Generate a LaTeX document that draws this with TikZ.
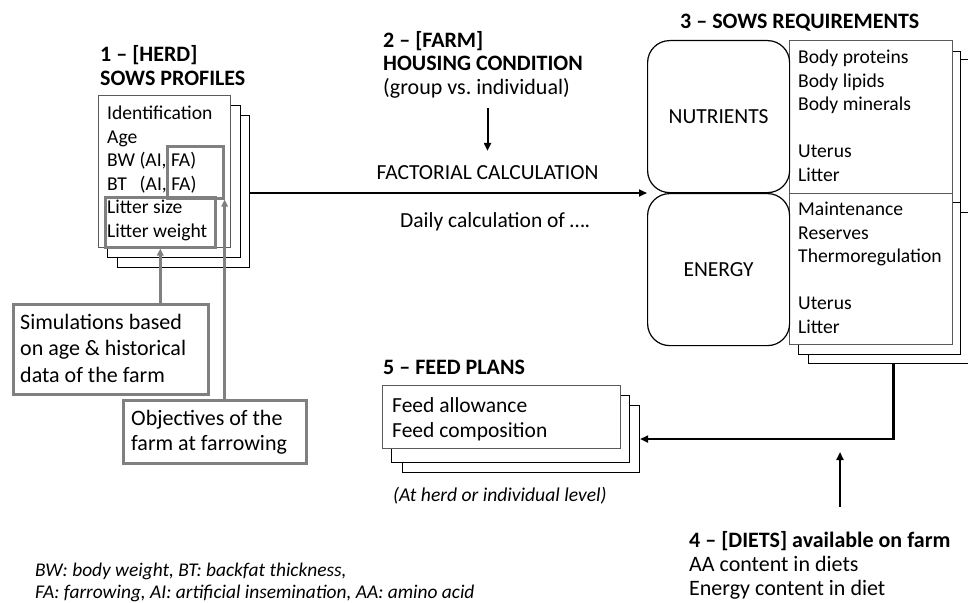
\documentclass[tikz,border=0pt]{standalone}
\usepackage{fontspec}
\setmainfont{Carlito}
\frenchspacing
\usetikzlibrary{arrows.meta}
\definecolor{grayln}{RGB}{128,128,128}
\definecolor{frontln}{RGB}{90,90,90}
\begin{document}
\begin{tikzpicture}[x=1pt,y=-1pt,
  sheet/.style={draw=black, line width=1.1pt, fill=white, inner sep=0, anchor=north west},
  frontsheet/.style={sheet, draw=frontln},
  graybox/.style={draw=grayln, line width=2.6pt, inner sep=0, anchor=north west},
  roundbox/.style={draw, line width=1.2pt, rounded corners=22pt, fill=white, inner sep=0, anchor=north west, font=\fontsize{21.5}{24}\selectfont},
  txt/.style={inner sep=0, anchor=base west, align=left},
  ttl/.style={txt, font=\bfseries\fontsize{22}{23.5}\selectfont},
  big/.style={txt, font=\fontsize{21.5}{25}\selectfont},
  lst/.style={txt, font=\fontsize{19.6}{23.5}\selectfont},
  ital/.style={txt, font=\itshape\fontsize{19.4}{22.5}\selectfont},
  mainarrow/.style={line width=2.6pt, -{Triangle[length=8pt,width=7pt]}},
  thinarrow/.style={line width=2pt, -{Triangle[length=8pt,width=7pt]}},
  grayarrow/.style={draw=grayln, line width=2.4pt, -{Triangle[length=7pt,width=6.5pt]}, grayln}
]
\useasboundingbox (0,0) rectangle (968,602);
\clip (0,0) rectangle (968,602);
% note: for multi-line nodes the base anchor is the last line's baseline

% ---------- 1: herd / sows profiles
\node[ttl] (herdtitle) at (100,85) {1 – [HERD]\\SOWS PROFILES};
\node[sheet, minimum width=132, minimum height=152] (prof3) at (117,115) {};
\node[sheet, minimum width=133, minimum height=152] (prof2) at (107,105) {};
\node[frontsheet, minimum width=132, minimum height=152] (prof1) at (98,95) {};
\node[lst] (proftext) at (107,237) {Identification\\Age\\BW (AI, FA)\\\makebox[1.434em][l]{BT} (AI, FA)\\Litter size\\Litter weight};
\node[graybox, minimum width=56, minimum height=52] (fabox) at (166,145) {};
\node[graybox, minimum width=110, minimum height=50] (litbox) at (104,196) {};

\node[graybox, minimum width=195, minimum height=90] (sim) at (12,303) {};
\node[big, font=\fontsize{22}{26.5}\selectfont] (simtext) at (20,382) {Simulations based\\on age \& historical\\data of the farm};
\node[graybox, minimum width=183, minimum height=63] (obj) at (122,399) {};
\node[big, font=\fontsize{22}{25}\selectfont] (objtext) at (131,450) {Objectives of the\\farm at farrowing};

\draw[grayarrow] (sim.north -| litbox.south) -- (litbox.south);
\draw[grayarrow] (obj.north -| fabox.south east) -- (fabox.south east);

% ---------- 2: farm
\node[ttl] (farmtitle) at (383,70.5) {2 – [FARM]\\HOUSING CONDITION};
\node[txt, font=\fontsize{22}{23.5}\selectfont] (group) at (383,94) {(group vs. individual)};
\node[txt, anchor=base, font=\fontsize{21.5}{25}\selectfont] (fact) at (487.5,179) {FACTORIAL CALCULATION};
\node[big] (daily) at (400,227) {Daily calculation of ….};
\draw[thinarrow] (fact.north |- group.south) ++(0,10) -- ([yshift=14pt]fact.north);

% ---------- 3: requirements
\node[ttl] (reqtitle) at (680,29) {3 – SOWS REQUIREMENTS};
\node[sheet, minimum width=170, minimum height=153] (nut3) at (808,59) {};
\node[sheet, minimum width=162, minimum height=152] (nut2) at (798,51) {};
\node[frontsheet, minimum width=163, minimum height=153] (nut1) at (789,40) {};
\node[lst] (nuttext) at (798,181) {Body proteins\\Body lipids\\Body minerals\\[23.5pt]Uterus\\Litter};
\node[sheet, minimum width=170, minimum height=151] (en3) at (808,212) {};
\node[sheet, minimum width=162, minimum height=152] (en2) at (798,202) {};
\node[frontsheet, minimum width=163, minimum height=151] (en1) at (789,193) {};
\node[lst] (entext) at (798,333) {Maintenance\\Reserves\\Thermoregulation\\[23.5pt]Uterus\\Litter};
\node[roundbox, minimum width=142, minimum height=152] (nut) at (647,40) {NUTRIENTS};
\node[roundbox, minimum width=142, minimum height=152] (en) at (647,193) {ENERGY};

\draw[mainarrow] (prof3.east |- en.north west) -- (en.north west);

% ---------- 5: feed plans
\node[ttl] (feedtitle) at (383,374) {5 – FEED PLANS};
\node[sheet, minimum width=237, minimum height=67] (feed3) at (402,405) {};
\node[sheet, minimum width=238, minimum height=67] (feed2) at (391,395) {};
\node[frontsheet, minimum width=238, minimum height=63] (feed1) at (382,385) {};
\node[big] (feedtext) at (392,437) {Feed allowance\\Feed composition};
\node[ital, font=\itshape\fontsize{19.6}{22.5}\selectfont] (level) at (393,501) {(At herd or individual level)};

\draw[mainarrow] (en3.south) |- (feed3.east);

% ---------- 4: diets
\node[ttl, font=\fontsize{22}{24}\selectfont] (diets) at (689,595) {\textbf{4 – [DIETS] available on farm}\\AA content in diets\\Energy content in diet};
\coordinate (dietstip) at (840,452);
\draw[mainarrow] (diets.north -| dietstip) ++(0,-24) -- (dietstip);

% ---------- footnote
\node[ital] (foot) at (35,598.5) {BW: body weight, BT: backfat thickness,\\FA: farrowing, AI: artificial insemination, AA: amino acid};
\end{tikzpicture}
\end{document}
